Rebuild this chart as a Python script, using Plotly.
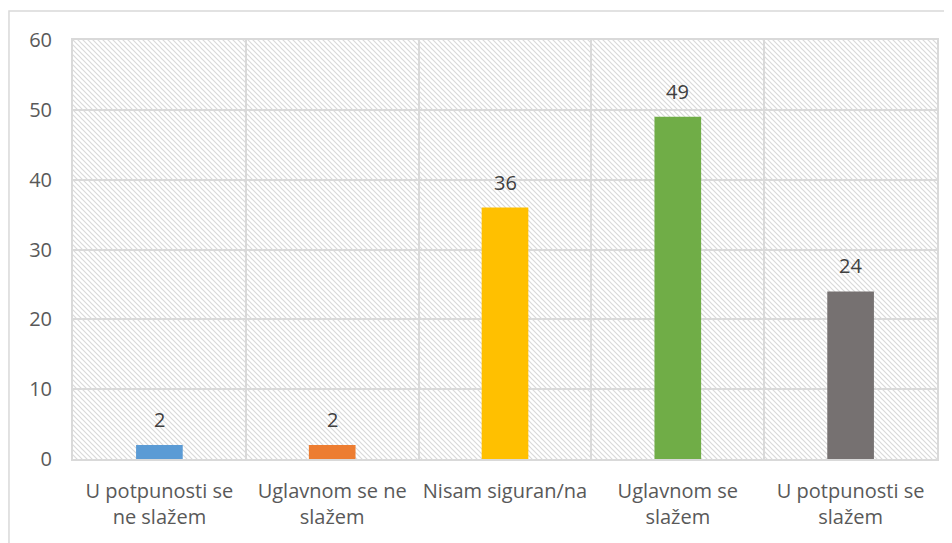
import base64
import plotly.graph_objects as go

categories = ["U potpunosti se<br>ne slažem", "Uglavnom se ne<br>slažem", "Nisam siguran/na",
              "Uglavnom se<br>slažem", "U potpunosti se<br>slažem"]
values = [2, 2, 36, 49, 24]
colors = ["#5B9BD5", "#ED7D31", "#FFC000", "#70AD47", "#767171"]
y_ticks = [0, 10, 20, 30, 40, 50, 60]

W, H = 864, 419
svg = f'''<svg xmlns="http://www.w3.org/2000/svg" width="{W}" height="{H}">
<defs><pattern id="p" patternUnits="userSpaceOnUse" width="5" height="5">
<path d="M-1,-1 L6,6 M-1,4 L1,6 M4,-1 L6,1" stroke="#d9d9d9" stroke-width="1.2"/>
</pattern></defs>
<rect width="{W}" height="{H}" fill="url(#p)"/></svg>'''
src = "data:image/svg+xml;base64," + base64.b64encode(svg.encode()).decode()

font = "'Open Sans', sans-serif"
FS = 20

fig = go.Figure(go.Bar(
    x=categories, y=values, marker=dict(color=colors, line=dict(width=0)),
    showlegend=False, hoverinfo="x+y",
))

annotations = [dict(x=c, y=v, text=str(v), xref="x", yref="y", showarrow=False,
                    yanchor="bottom", yshift=10,
                    font=dict(size=FS, color="#404040", family=font))
               for c, v in zip(categories, values)]

fig.update_layout(
    width=944, height=535,
    margin=dict(l=65, r=15, t=32, b=84),
    paper_bgcolor="white", plot_bgcolor="white",
    bargap=0.73,
    font=dict(family=font, size=FS, color="#595959"),
    annotations=annotations,
    images=[dict(source=src, xref="paper", yref="paper", x=0, y=1, sizex=1, sizey=1,
                 xanchor="left", yanchor="top", sizing="stretch", layer="below")],
    shapes=[dict(type="rect", xref="paper", yref="paper", x0=-0.0741, x1=1.05, y0=-0.3, y1=1.069,
                 line=dict(color="#d9d9d9", width=1.5), fillcolor="rgba(0,0,0,0)", layer="below")],
)
fig.update_xaxes(
    type="category", tickson="boundaries", showgrid=True, gridcolor="#d9d9d9", gridwidth=1.5,
    showline=True, mirror=True, linecolor="#d9d9d9", linewidth=2, ticks="",
    tickfont=dict(size=FS, color="#595959"), tickangle=0, ticklabelstandoff=13,
)
fig.update_yaxes(
    range=[0, 60], tickvals=y_ticks, showgrid=True, gridcolor="#d9d9d9", gridwidth=1.5,
    showline=True, mirror=True, linecolor="#d9d9d9", linewidth=2, ticks="",
    zeroline=False, ticklabelstandoff=15,
    tickfont=dict(size=FS, color="#595959"),
)

fig.write_html("out.html")
